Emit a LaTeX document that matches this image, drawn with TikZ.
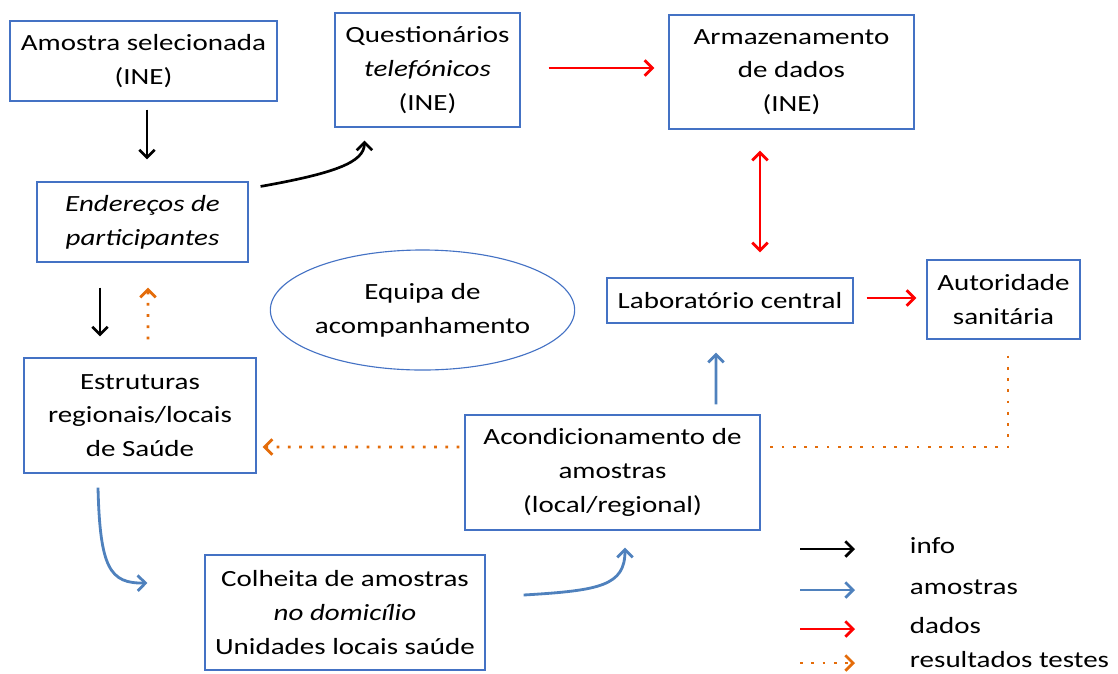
\documentclass[tikz,border=0pt]{standalone}
\usepackage{fontspec}
\setmainfont{Carlito}[FakeStretch=1.25]
\usepackage{xcolor}
\usepackage{tikz}
\usetikzlibrary{calc,arrows.meta,shapes.geometric}

\definecolor{boxblue}{HTML}{4472C4}
\definecolor{arrblue}{HTML}{4F81BD}
\definecolor{resorange}{HTML}{E46C0A}

\tikzset{
	caixa/.style={draw=boxblue,line width=0.8pt,inner sep=0pt,align=center,
		font=\fontsize{16.5}{24}\selectfont},
	info/.style={->,black,line width=1.9pt},
	amostra/.style={->,arrblue,line width=2pt},
	dado/.style={->,red,line width=2pt},
	resultado/.style={->,resorange,line width=2pt,dash pattern=on 2pt off 6pt},
}

\begin{document}
\begin{tikzpicture}[x=0.025cm,y=-0.025cm,>={Straight Barb[length=5.5pt,width=11pt]}]
			\useasboundingbox (0,0) rectangle (1118,673);
			% % % % % % % % % % % % % % %
			%caixas
			\node[caixa,minimum width=6.675cm,minimum height=2cm] (amostra) at (143.5,61) {Amostra selecionada\\(INE)};
			\node[caixa,minimum width=4.625cm,minimum height=2.85cm] (quest) at (427.5,70) {Questionários\\\textit{telefónicos}\\(INE)};
			\node[caixa,minimum width=6.125cm,minimum height=2.85cm] (armaz) at (791.5,72) {Armazenamento\\de dados\\(INE)};
			\node[caixa,minimum width=5.275cm,minimum height=2cm] (ender) at (142.5,222) {\itshape Endereços de\\\itshape participantes};
			\node[caixa,ellipse,minimum width=7.375cm,minimum height=3cm] (equipa) at (422.5,310) {Equipa de\\acompanhamento};
			\node[caixa,minimum width=6.15cm,minimum height=1.125cm] (lab) at (730,300.5) {Laboratório central};
			\node[caixa,minimum width=3.825cm,minimum height=1.975cm] (aut) at (1003.5,299.5) {Autoridade\\sanitária};
			\node[caixa,minimum width=5.8cm,minimum height=2.875cm] (estr) at (140,415.5) {Estruturas\\regionais/locais\\de Saúde};
			\node[caixa,minimum width=7.375cm,minimum height=2.875cm] (acond) at (612.5,472.5) {Acondicionamento de\\amostras\\(local/regional)};
			\node[caixa,minimum width=7cm,minimum height=2.875cm] (colh) at (345,612.5) {Colheita de amostras\\\textit{no domicílio}\\Unidades locais saúde};
			%setas
			\draw[info] ($(amostra.south)+(3.5,8)$) -- ($(ender.north)+(4.5,-22)$);
			\draw[info] ($(ender.north east)+(12,5)$) .. controls ($(ender.north east)+(85,-8)$) and ($(quest.south west)+(30,35)$) .. ($(quest.south west)+(30,13)$);
			\draw[info] ($(ender.south)+(-42.5,25)$) -- ($(estr.north)+(-40,-21)$);
			\draw[resultado] ($(estr.north)+(8,-18)$) -- ($(ender.south)+(5.5,25)$);
			\draw[dado] ($(quest.east)+(28,-2)$) -- ($(armaz.west)+(-14,-4)$);
			\draw[dado,<->] ($(armaz.south)+(-31.5,21)$) -- ($(lab.north)+(30,-25)$);
			\draw[dado] ($(lab.east)+(13,-2.5)$) -- ($(aut.west)+(-10,-1.5)$);
			\draw[amostra] ($(acond.north)+(103.5,-10)$) -- ($(lab.south)+(-14,29)$);
			\draw[resultado,-] ($(aut.south)+(4.5,16)$) |- ($(acond.east)+(5,-25.5)$);
			\draw[resultado] ($(acond.west)+(-5,-25.5)$) -- ($(estr.east)+(6,31.5)$);
			\draw[amostra] ($(estr.south)+(-42,14)$) .. controls ($(estr.south)+(-40,95)$) and ($(estr.south)+(-30,110)$) .. ($(colh.west)+(-57,-29.5)$);
			\draw[amostra] ($(colh.east)+(38,-17.5)$) .. controls ($(colh.east)+(115,-22)$) and ($(acond.south)+(12.5,55)$) .. ($(acond.south)+(12.5,17)$);
			%legenda
			\foreach \y/\estilo/\texto in {549/info/info,590/amostra/amostras,629/dado/dados,663/resultado/resultados testes} {
				\coordinate (l\y) at (800,\y);
				\draw[\estilo] (l\y) -- ++(55,0);
				\node[anchor=west,font=\fontsize{16.5}{18}\selectfont] (t\y) at (905,\y-3) {\texto};
			}
		\end{tikzpicture}
\end{document}
